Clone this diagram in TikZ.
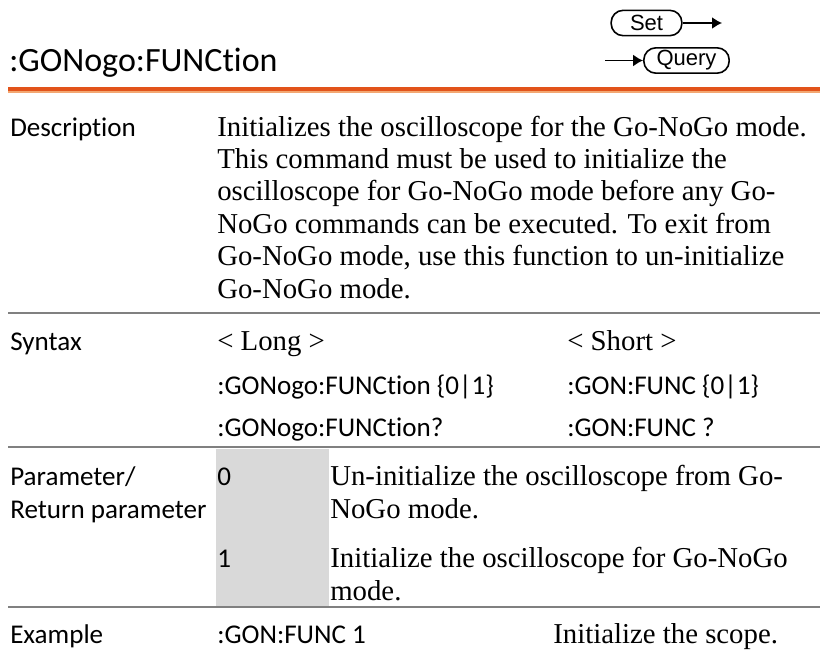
\documentclass[tikz,border=0pt]{standalone}
\usepackage{fontspec}
\setmainfont{Liberation Serif}
\setsansfont{Carlito}[RawFeature={-liga}]
\newfontfamily\arialfont{Liberation Sans}
\usepackage{xcolor}
\usetikzlibrary{arrows.meta,positioning}

\definecolor{ruleorange}{HTML}{E2531A}
\definecolor{rulepeach}{HTML}{F3A772}
\definecolor{rulegray}{HTML}{808080}
\definecolor{cellgray}{HTML}{D9D9D9}

\begin{document}
\begin{tikzpicture}[
    x=0.75pt, y=-0.75pt,
    cmdtitle/.style={anchor=base west, inner sep=0pt, font=\sffamily\fontsize{25.5}{30}\selectfont},
    headtxt/.style={anchor=base west, inner sep=0pt, font=\sffamily\fontsize{20.3}{24}\selectfont},
    bodytxt/.style={anchor=base west, inner sep=0pt, font=\rmfamily\fontsize{21.6}{24}\selectfont},
    modebox/.style={draw, line width=1.2pt, rounded corners=9pt, minimum height=19pt, inner sep=0pt, font=\arialfont\fontsize{16.5}{18}\selectfont},
    arrow/.style={-{Latex[length=7.5pt,width=9pt]}, line width=1.2pt},
    rulegrey/.style={draw=rulegray, line width=2.2pt}
]
\useasboundingbox (0,0) rectangle (820,650);

% header
\node[cmdtitle] (cmd) at (9,71) {:GONogo:FUNCtion};
\node[modebox, minimum width=53pt] (set) at (646.5,23) {Set};
\node[modebox, minimum width=64pt] (query) at (686.5,60.5) {Query};
\coordinate (setout) at (722,23);
\coordinate (queryin) at (605,60.5);
\draw[arrow] (set) -- (setout);
\draw[arrow] (queryin) -- (query);
\fill[ruleorange] (8,87) rectangle (820,91);
\fill[rulepeach] (8,91) rectangle (820,93);

% description
\node[headtxt] (deschead) at (10,136) {Description};
\node[bodytxt] (desc1) at (217,136) {Initializes the oscilloscope for the Go-NoGo mode.};
\node[bodytxt] (desc2) at (217,168.4) {This command must be used to initialize the};
\node[bodytxt] (desc3) at (217,200.8) {oscilloscope for Go-NoGo mode before any Go-};
\node[bodytxt] (desc4) at (217,233.2) {NoGo commands can be executed. To exit from};
\node[bodytxt] (desc5) at (217,265.6) {Go-NoGo mode, use this function to un-initialize};
\node[bodytxt] (desc6) at (217,298) {Go-NoGo mode.};
\draw[rulegrey] (8,313) -- (820,313);

% syntax
\node[headtxt] (synhead) at (10,350) {Syntax};
\node[bodytxt] (longhead) at (217,350) {< Long >};
\node[bodytxt] (shorthead) at (567,350) {< Short >};
\node[headtxt] (longset) at (217,394) {:GONogo:FUNCtion \{0|1\}};
\node[headtxt] (shortset) at (567,394) {:GON:FUNC \{0|1\}};
\node[headtxt] (longqry) at (217,436) {:GONogo:FUNCtion?};
\node[headtxt] (shortqry) at (567,436) {:GON:FUNC ?};
\draw[rulegrey] (8,447) -- (820,447);

% parameters
\fill[cellgray] (216,449) rectangle (329,606);
\node[headtxt] (parhead) at (10,485) {Parameter/};
\node[headtxt] (rethead) at (10,518) {Return parameter};
\node[headtxt] (par0) at (217,485) {0};
\node[bodytxt] (par0a) at (330,485) {Un-initialize the oscilloscope from Go-};
\node[bodytxt] (par0b) at (330,518) {NoGo mode.};
\node[headtxt] (par1) at (217,567) {1};
\node[bodytxt] (par1a) at (330,567) {Initialize the oscilloscope for Go-NoGo};
\node[bodytxt] (par1b) at (330,600) {mode.};
\draw[rulegrey] (8,607) -- (820,607);

% example
\node[headtxt] (exhead) at (10,643) {Example};
\node[headtxt] (excmd) at (217,643) {:GON:FUNC 1};
\node[bodytxt] (exnote) at (553,643) {Initialize the scope.};
\end{tikzpicture}
\end{document}
